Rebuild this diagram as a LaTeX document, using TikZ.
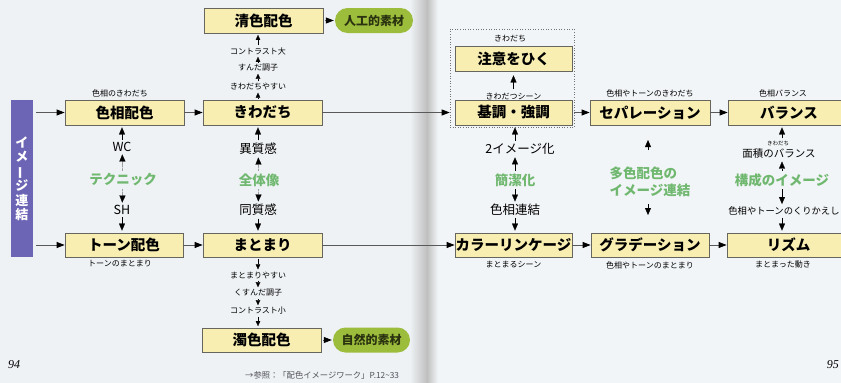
\documentclass[tikz,border=0pt]{standalone}
\usepackage{fontspec}
\usetikzlibrary{arrows.meta,shapes.misc}
\newfontfamily\jp{Noto Sans CJK JP}
\newfontfamily\serifit{Liberation Serif}
\definecolor{bgl}{HTML}{EEF2F4}
\definecolor{bgr}{HTML}{F2F5F7}
\definecolor{boxy}{HTML}{F8EEB2}
\definecolor{boxline}{HTML}{66665E}
\definecolor{grn}{HTML}{70B870}
\definecolor{pill}{HTML}{9CBD3C}
\definecolor{pilltext}{HTML}{2A3210}
\definecolor{purp}{HTML}{6C64B4}
\definecolor{foot}{HTML}{505058}
\begin{document}
\begin{tikzpicture}[x=1pt,y=-1pt,
  box/.style={draw=boxline,fill=boxy,line width=0.8pt,minimum height=25pt,inner sep=0pt,
    font=\jp\bfseries\fontsize{14.5}{15}\selectfont},
  pillbox/.style={rounded rectangle,fill=pill,minimum height=25pt,minimum width=78pt,inner sep=0pt,
    font=\jp\bfseries\fontsize{12}{13}\selectfont,text=pilltext},
  small/.style={font=\jp\fontsize{8}{9}\selectfont,inner sep=0.5pt},
  mid/.style={font=\jp\fontsize{12.5}{13}\selectfont,inner sep=0.5pt},
  grtext/.style={font=\jp\bfseries\fontsize{13.5}{17}\selectfont,text=grn,inner sep=0.5pt},
  harrow/.style={draw=black!65,line width=0.8pt,-{Triangle[length=8pt,width=6pt,color=black,fill=black]}},
  tip/.style={draw=black,line width=0.2pt,shorten >=2pt,shorten <=2pt,-{Triangle[length=7pt,width=6pt]}},
  smalltip/.style={draw=black,line width=0.2pt,shorten >=1.5pt,shorten <=1.5pt,-{Triangle[length=5pt,width=4.5pt]}},
]
\useasboundingbox (0,0) rectangle (841,383);
\fill[bgl] (0,0) rectangle (428,383);
\fill[bgr] (428,0) rectangle (841,383);
\shade[left color=bgl,right color=black!25] (410,0) rectangle (427,383);
\shade[left color=black!25,right color=bgr] (427,0) rectangle (438,383);

% ---------- left page ----------
\node[fill=purp,minimum width=22pt,minimum height=157pt,inner sep=0pt,align=center,
  text=white,font=\jp\bfseries\fontsize{13}{14.5}\selectfont] (bar) at (22,178.5)
  {イ\\メ\\\rotatebox[origin=c]{90}{ー}\\ジ\\連\\結};

\node[box,minimum width=119pt] (seis) at (263.5,20.5) {清色配色};
\node[pillbox] (jin) at (374,20.5) {人工的素材};
\node[small] (cd) at (258,51) {コントラスト大};
\node[small] (sc) at (258,68) {すんだ調子};
\node[small] (ky) at (258,87) {きわだちやすい};

\node[small] (shl) at (120,93) {色相のきわだち};
\node[box,minimum width=119pt] (shik) at (124.5,112.5) {色相配色};
\node[box,minimum width=119pt] (kiw) at (262.5,112.5) {きわだち};

\node[mid] (wc) at (122,147) {WC};
\node[grtext] (tech) at (123,180) {テクニック};
\node[mid] (sh) at (122,210) {SH};
\node[mid] (ishi) at (258,149) {異質感};
\node[grtext] (zen) at (259,180) {全体像};
\node[mid] (dou) at (258,210) {同質感};

\node[box,minimum width=118pt,minimum height=24pt] (tone) at (124,245) {トーン配色};
\node[box,minimum width=119pt,minimum height=24pt] (mat) at (262.5,245) {まとまり};
\node[small] (tnl) at (120,264) {トーンのまとまり};
\node[small] (my) at (258,275) {まとまりやすい};
\node[small] (kc) at (258,293) {くすんだ調子};
\node[small] (cs) at (258,311) {コントラスト小};
\node[box,minimum width=119pt,minimum height=24pt] (nig) at (261.5,340) {濁色配色};
\node[pillbox,minimum width=77pt] (shz) at (371.5,340) {自然的素材};

\node[font=\serifit\itshape\fontsize{12}{12}\selectfont,anchor=west,inner sep=0pt] (p94) at (8,365) {94};
\node[font=\jp\fontsize{8.3}{9}\selectfont,text=foot,anchor=west,inner sep=0pt] (ref) at (245,375)
  {→参照：「配色イメージワーク」P.12\textasciitilde33};

% left connectors
\draw[harrow,shorten >=1pt,shorten <=2pt] (seis) -- (jin);
\draw[harrow,shorten >=1pt,shorten <=2pt] (nig) -- (shz);
\draw[harrow,shorten <=3pt] (bar.east |- shik) -- (shik.west);
\draw[harrow,shorten <=3pt] (bar.east |- tone) -- (tone.west);
\draw[harrow] (shik) -- (kiw);
\draw[harrow] (tone) -- (mat);

\draw[smalltip] (kiw.north -| ky) -- (ky.south);
\draw[smalltip] (ky) -- (sc);
\draw[smalltip] (sc) -- (cd);
\draw[smalltip] (cd) -- (cd |- seis.south);
\draw[smalltip] (mat.south -| my) -- (my.north);
\draw[smalltip] (my) -- (kc);
\draw[smalltip] (kc) -- (cs);
\draw[smalltip] (cs) -- (cs |- nig.north);

\draw[tip] (wc) -- (wc |- shik.south);
\draw[tip] (tech) -- (wc);
\draw[tip] (tech) -- (sh);
\draw[tip] (sh) -- (sh |- tone.north);
\draw[tip] (ishi) -- (ishi |- kiw.south);
\draw[tip] (zen) -- (ishi);
\draw[tip] (zen) -- (dou);
\draw[tip] (dou) -- (dou |- mat.north);

% ---------- right page ----------
\node[draw=black!55,dotted,line width=0.6pt,minimum width=124pt,minimum height=98pt,inner sep=0pt] (dot) at (512,78) {};
\node[small] (kw2) at (510,39) {きわだち};
\node[box,minimum width=117pt] (chui) at (513.5,58.5) {注意をひく};
\node[small] (kws) at (513.5,97) {きわだつシーン};
\node[box,minimum width=117pt] (kich) at (513.5,112.5) {基調・強調};

\node[small] (sepl) at (650,93) {色相やトーンのきわだち};
\node[box,minimum width=120pt] (sep) at (650,112.5) {セパレーション};
\node[small] (ball) at (783,93) {色相バランス};
\node[box,minimum width=122pt] (bal) at (789,112.5) {バランス};

\node[mid] (two) at (520,149) {2イメージ化};
\node[grtext] (kan) at (515,180) {簡潔化};
\node[mid] (shr) at (515,210) {色相連結};

\coordinate (gu1) at (648,150);
\coordinate (gu2) at (648,140);
\node[grtext,align=left] (tashoku) at (650,182) {多色配色の\\イメージ連結};
\coordinate (gd1) at (648,204);
\coordinate (gd2) at (648,215);

\node[font=\jp\fontsize{5.5}{6}\selectfont,inner sep=0pt] (ruby) at (778,143) {きわだち};
\node[font=\jp\fontsize{10.5}{11}\selectfont,inner sep=0.5pt] (men) at (779,154) {面積のバランス};
\node[grtext] (kou) at (782,180) {構成のイメージ};
\node[font=\jp\fontsize{9.3}{10}\selectfont,inner sep=0.5pt] (kuri) at (784,211) {色相やトーンのくりかえし};

\node[box,minimum width=117pt,minimum height=24pt] (col) at (513.5,245) {カラーリンケージ};
\node[box,minimum width=118pt,minimum height=24pt] (grad) at (650,245) {グラデーション};
\node[box,minimum width=123pt,minimum height=24pt] (rhy) at (788.5,245) {リズム};
\node[small] (coll) at (513.5,265) {まとまるシーン};
\node[small] (gradl) at (650,265) {色相やトーンのまとまり};
\node[small] (rhyl) at (783,265) {まとまった動き};

\node[font=\serifit\itshape\fontsize{12}{12}\selectfont,anchor=east,inner sep=0pt] (p95) at (839,365) {95};

% right connectors
\draw[harrow] (kiw.east) -- (dot.west |- kich);
\draw[harrow] (mat.east) -- (col.west);
\draw[harrow] (dot.east |- kich) -- (sep.west);
\draw[harrow] (sep) -- (bal);
\draw[harrow] (col) -- (grad);
\draw[harrow] (grad) -- (rhy);

\draw[tip,shorten >=4pt,shorten <=4pt] (kws) -- (chui);
\draw[tip] (two.north -| kan) -- (kan |- kich.south);
\draw[tip] (kan) -- (kan |- two.south);
\draw[tip] (kan) -- (shr);
\draw[tip] (shr) -- (shr |- col.north);

\draw[tip,shorten >=0pt,shorten <=0pt] (gu1) -- (gu2);
\draw[tip,shorten >=0pt,shorten <=0pt] (gd1) -- (gd2);

\draw[tip] (ruby.north -| kou) -- (kou |- bal.south);
\draw[tip] (kou) -- (kou |- men.south);
\draw[tip] (kou) -- (kou |- kuri.north);
\draw[tip] (kou |- kuri.south) -- (kou |- rhy.north);
\end{tikzpicture}
\end{document}
